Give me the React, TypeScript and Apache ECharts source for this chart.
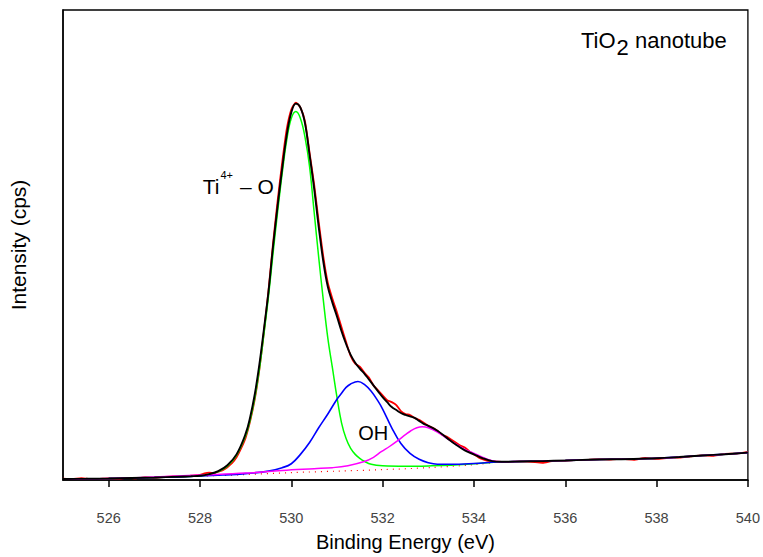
import React, { useEffect, useRef } from "react";
import * as echarts from "echarts";

type P = [number, number];

// x ticks (binding energy, eV)
const xTicks = [526, 528, 530, 532, 534, 536, 538, 540];

// measured spectrum (red, noisy)
const measured: P[] = [
  [525.0, 1.5], [525.2, 0.8], [525.4, 1.8], [525.6, 1.0], [525.8, 1.2], [526.0, 1.6], [526.2, 1.2],
  [526.4, 2.2], [526.6, 1.8], [526.8, 2.6], [527.0, 2.2], [527.2, 3.0], [527.4, 3.6], [527.6, 3.0],
  [527.8, 4.5], [528.0, 5.2], [528.1, 6.8], [528.2, 7.5], [528.3, 7.0], [528.4, 8.5], [528.5, 10],
  [528.6, 13], [528.7, 17], [528.8, 23], [528.9, 32], [529.0, 43], [529.1, 60], [529.2, 82],
  [529.3, 112], [529.4, 150], [529.5, 192], [529.6, 240], [529.7, 283], [529.8, 322], [529.9, 356],
  [530.0, 376], [530.1, 383], [530.2, 378], [530.3, 364], [530.4, 332], [530.5, 300], [530.6, 262],
  [530.7, 227], [530.8, 200], [530.9, 184], [531.0, 170], [531.1, 155], [531.2, 140], [531.3, 126],
  [531.4, 118], [531.5, 115], [531.6, 109], [531.7, 104], [531.8, 96], [531.9, 91], [532.0, 86],
  [532.1, 81], [532.2, 79], [532.3, 76], [532.4, 70], [532.5, 67], [532.6, 66], [532.7, 63],
  [532.8, 61], [532.9, 58], [533.0, 55], [533.1, 53], [533.2, 50], [533.3, 46], [533.4, 44],
  [533.5, 41], [533.6, 38], [533.7, 35], [533.8, 33], [533.9, 29], [534.0, 26], [534.1, 23],
  [534.2, 21], [534.3, 19.5], [534.5, 18.5], [534.75, 18.2], [535.0, 19.0], [535.25, 18.5],
  [535.5, 17.5], [535.75, 19.5], [536.0, 19.5], [536.25, 20.5], [536.5, 20.5], [536.75, 21.2],
  [537.0, 20.8], [537.25, 21.5], [537.5, 20.5], [537.75, 22.5], [538.0, 21.5], [538.25, 22.5],
  [538.5, 22.8], [538.75, 24], [539.0, 25], [539.25, 24.5], [539.5, 26.5], [539.75, 26.8], [540.0, 28.5],
];

// common high-energy tail shared by fit curves
const fitTail: P[] = [
  [534.75, 18.5], [535.0, 18.8], [535.5, 19.2], [536.0, 19.8], [536.5, 20.5], [537.0, 21],
  [537.5, 21.3], [538.0, 22], [538.5, 23.3], [539.0, 24.8], [539.5, 26.2], [540.0, 27.8],
];

// fit envelope (black)
const envelope: P[] = [
  [525.0, 1], [525.5, 1.2], [526.0, 1.5], [526.5, 2], [527.0, 2.5], [527.5, 3.3], [527.8, 3.8],
  [528.0, 4.3], [528.2, 6], [528.4, 9], [528.6, 15], [528.8, 26], [529.0, 47], [529.1, 64],
  [529.2, 87], [529.3, 117], [529.4, 153], [529.5, 191], [529.6, 237], [529.7, 278], [529.8, 316],
  [529.9, 350], [530.0, 373], [530.1, 382], [530.2, 378], [530.3, 362], [530.4, 330], [530.5, 296],
  [530.6, 257], [530.7, 222], [530.8, 196], [530.9, 180], [531.0, 166], [531.1, 151], [531.2, 138],
  [531.3, 127], [531.4, 119], [531.5, 113], [531.6, 108], [531.7, 102], [531.8, 96], [531.9, 90],
  [532.0, 84], [532.1, 79], [532.2, 74], [532.3, 71], [532.4, 68], [532.5, 66], [532.6, 64.5],
  [532.7, 63], [532.8, 60], [532.9, 57], [533.0, 55], [533.2, 50], [533.4, 43], [533.6, 36],
  [533.8, 30], [534.0, 26], [534.2, 22], [534.4, 19.2], [534.6, 18.5],
];

// Ti4+ - O component (green)
const tiO: P[] = [
  [525.0, 1], [526.0, 1.5], [527.0, 2.5], [527.5, 3.2], [528.0, 4], [528.2, 5.5], [528.4, 8.5],
  [528.6, 14], [528.8, 25], [529.0, 45], [529.1, 61], [529.2, 83], [529.3, 112], [529.4, 148],
  [529.5, 186], [529.6, 230], [529.7, 272], [529.8, 311], [529.9, 345], [530.0, 367], [530.1, 374],
  [530.2, 367], [530.3, 348], [530.4, 318], [530.5, 272], [530.6, 226], [530.7, 183], [530.8, 144],
  [530.9, 114], [531.0, 84], [531.1, 58], [531.2, 42], [531.3, 32], [531.4, 26], [531.5, 22],
  [531.6, 19], [531.75, 16], [532.0, 14.5], [532.5, 14], [533.0, 14.3], [533.5, 15], [534.0, 16.5],
  [534.5, 18.2],
];

// OH component (blue)
const hydroxyl: P[] = [
  [525.0, 1], [526.0, 1.5], [527.0, 2.5], [528.0, 4], [528.5, 5], [529.0, 6.5], [529.5, 9],
  [529.8, 12.5], [530.0, 16.5], [530.2, 26], [530.4, 38], [530.6, 53], [530.8, 67], [531.0, 82],
  [531.1, 88], [531.2, 94], [531.3, 97.5], [531.46, 100], [531.6, 97], [531.75, 90], [531.9, 80],
  [532.0, 72], [532.2, 53], [532.4, 37], [532.6, 27], [532.8, 21], [533.0, 17.5], [533.2, 16],
  [533.5, 16], [534.0, 16.8], [534.5, 18.2],
];

// third component (magenta)
const third: P[] = [
  [525.0, 1], [526.0, 1.5], [527.0, 3], [528.0, 5], [529.0, 7], [529.8, 9.7], [530.5, 11.5],
  [530.9, 12.5], [531.24, 14.5], [531.6, 18.7], [531.8, 23], [531.97, 28.7], [532.15, 34],
  [532.33, 40], [532.5, 46], [532.62, 50], [532.75, 53], [532.87, 54], [533.0, 53], [533.2, 48.7],
  [533.35, 44], [533.5, 39.5], [533.78, 31.5], [533.93, 28.5], [534.15, 24], [534.4, 19.5],
  [534.6, 18.5],
];

// background (red dotted)
const background: P[] = [
  [525.0, 1], [526.0, 1.5], [527.0, 2.5], [528.0, 4], [529.0, 5.5], [530.0, 7.5], [531.0, 9],
  [532.0, 10.5], [533.0, 12.5], [534.0, 15.5], [534.5, 18], [534.6, 18.4],
];

const FONT = "'Liberation Sans', Arial, Helvetica, sans-serif";

export default function App() {
  const ref = useRef<HTMLDivElement>(null);
  useEffect(() => {
    if (!ref.current) return;
    const chart = echarts.init(ref.current, undefined, { renderer: "svg" });
    const line = (name: string, data: P[], color: string, width: number, smooth: number | boolean, extra: any = {}) => ({
      name,
      type: "line",
      data,
      smooth,
      symbol: "none",
      showSymbol: false,
      lineStyle: { color, width, ...extra },
      z: 2,
    });
    chart.setOption({
      animation: false,
      backgroundColor: "#ffffff",
      textStyle: { fontFamily: FONT },
      grid: {
        left: 60.5,
        right: 14.5,
        top: 10,
        bottom: 70,
        show: true,
        borderColor: "#000",
        borderWidth: 1.3,
        backgroundColor: "transparent",
      },
      xAxis: {
        type: "value",
        min: 525,
        max: 540,
        name: "Binding Energy (eV)",
        nameLocation: "middle",
        nameGap: 52,
        nameTextStyle: { fontSize: 20, color: "#000", fontFamily: FONT },
        axisLine: { show: true, onZero: false, lineStyle: { color: "#000", width: 1.5 } },
        axisTick: { show: true, inside: false, length: 7, customValues: xTicks, lineStyle: { color: "#000", width: 1.5 } },
        axisLabel: { show: true, customValues: xTicks, fontSize: 14.5, color: "#444", margin: 30, fontFamily: FONT },
        splitLine: { show: false },
      },
      yAxis: {
        type: "value",
        min: 0,
        max: 477,
        name: "Intensity (cps)",
        nameLocation: "middle",
        nameGap: 34,
        nameTextStyle: { fontSize: 21, color: "#000", fontFamily: FONT },
        axisLine: { show: true, lineStyle: { color: "#000", width: 1.5 } },
        axisTick: { show: false },
        axisLabel: { show: false },
        splitLine: { show: false },
      },
      series: [
        line("measured", measured, "#ff0000", 1.8, 0.2),
        line("background", background, "#ff0000", 1.2, 0.3, { type: [1, 5] }),
        line("Ti-O", [...tiO, ...fitTail], "#00ff00", 1.5, 0.4),
        line("OH", [...hydroxyl, ...fitTail], "#0000ff", 1.6, 0.4),
        line("third", [...third, ...fitTail], "#ff00ff", 1.5, 0.4),
        line("envelope", [...envelope, ...fitTail], "#000000", 1.9, 0.4),
      ],
      graphic: [
        { type: "text", x: 581, y: 40, style: { text: "TiO", font: `22px ${FONT}`, fill: "#000", textVerticalAlign: "middle" } },
        { type: "text", x: 616.5, y: 47.5, style: { text: "2", font: `22px ${FONT}`, fill: "#000", textVerticalAlign: "middle" } },
        { type: "text", x: 635, y: 40, style: { text: "nanotube", font: `22px ${FONT}`, fill: "#000", textVerticalAlign: "middle" } },
        { type: "text", x: 202.7, y: 186, style: { text: "Ti", font: `21px ${FONT}`, fill: "#000", textVerticalAlign: "middle" } },
        { type: "text", x: 220.5, y: 175, style: { text: "4+", font: `11px ${FONT}`, fill: "#000", textVerticalAlign: "middle" } },
        { type: "text", x: 240, y: 186, style: { text: "– O", font: `21px ${FONT}`, fill: "#000", textVerticalAlign: "middle" } },
        { type: "text", x: 358.3, y: 432.5, style: { text: "OH", font: `20px ${FONT}`, fill: "#000", textVerticalAlign: "middle" } },
      ],
    });
    return () => chart.dispose();
  }, []);
  return <div ref={ref} style={{ position: "fixed", left: 0, top: 0, width: 763, height: 557, background: "#fff" }} />;
}
